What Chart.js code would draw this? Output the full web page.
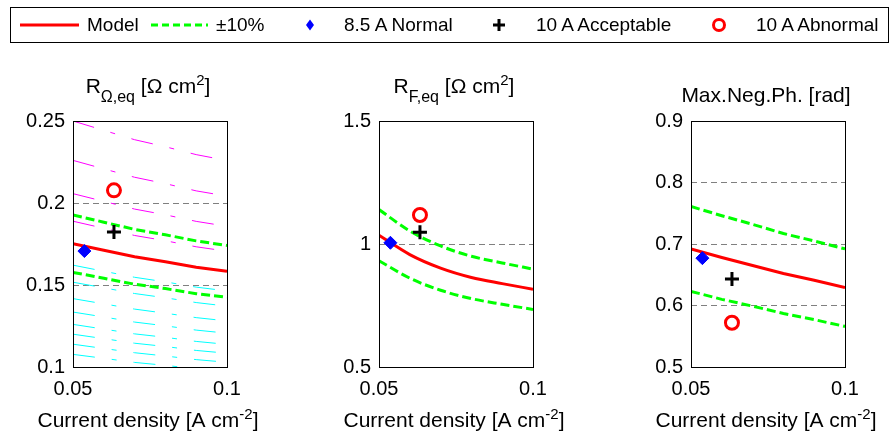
<!DOCTYPE html>
<html>
<head>
<meta charset="utf-8">
<script src="https://cdn.jsdelivr.net/npm/chart.js@4.4.1/dist/chart.umd.min.js"></script>
<style>
  body { margin: 0; background: #fff; width: 893px; height: 434px; position: relative; overflow: hidden;
         font-family: "Liberation Sans", Arial, sans-serif; }
  canvas.panel { position: absolute; top: 0; }
  #legendBox { position: absolute; left: 10px; top: 7px; width: 879px; height: 36px; border: 1px solid #000; box-sizing: border-box; }
  #legendMarks { position: absolute; left: 0; top: 0; }
  .lg { position: absolute; top: 14px; font-size: 19px; line-height: 22px; color: #000; white-space: nowrap; }
</style>
</head>
<body>
<div id="legendBox"></div>
<canvas id="legendMarks" width="893" height="50"></canvas>
<span class="lg" style="left:87px">Model</span>
<span class="lg" style="left:216px">±10%</span>
<span class="lg" style="left:344px">8.5 A Normal</span>
<span class="lg" style="left:536px">10 A Acceptable</span>
<span class="lg" style="left:756px">10 A Abnormal</span>

<canvas class="panel" id="ohmChart" width="269" height="434" style="left:3px"></canvas>
<canvas class="panel" id="farChart" width="269" height="434" style="left:309px"></canvas>
<canvas class="panel" id="phaseChart" width="269" height="434" style="left:621px"></canvas>

<script>
// current density grid shared by all model curves
const xGrid = [0.05, 0.06, 0.07, 0.08, 0.09, 0.1];
const xTicks = [0.05, 0.1];
const normalX = 0.0537;   // 8.5 A
const tenAmpX = 0.0633;   // 10 A

// ohmic resistance
const ohmTicks = [0.1, 0.15, 0.2, 0.25];
const ohmModel = [0.1752, 0.1712, 0.1672, 0.1642, 0.1608, 0.1583];
const ohmUpper = [0.1927, 0.1883, 0.1839, 0.1806, 0.1769, 0.1741];
const ohmLower = [0.1577, 0.1541, 0.1505, 0.1478, 0.1447, 0.1425];
const ohmHighLines = [
  [0.2500, 0.2443, 0.2386, 0.2343, 0.2295, 0.2259],
  [0.2260, 0.2208, 0.2157, 0.2118, 0.2074, 0.2042],
  [0.2057, 0.2010, 0.1963, 0.1928, 0.1888, 0.1858],
  [0.1889, 0.1846, 0.1802, 0.1770, 0.1733, 0.1706]
];
const ohmLowLines = [
  [0.1621, 0.1584, 0.1547, 0.1519, 0.1487, 0.1464],
  [0.1517, 0.1483, 0.1448, 0.1422, 0.1393, 0.1371],
  [0.1417, 0.1385, 0.1353, 0.1328, 0.1301, 0.1281],
  [0.1335, 0.1305, 0.1274, 0.1251, 0.1225, 0.1206],
  [0.1260, 0.1231, 0.1202, 0.1181, 0.1156, 0.1138],
  [0.1200, 0.1173, 0.1145, 0.1125, 0.1101, 0.1084],
  [0.1139, 0.1113, 0.1087, 0.1067, 0.1045, 0.1029],
  [0.1077, 0.1053, 0.1028, 0.1010, 0.0989, 0.0974]
];
const ohmMeasured = [0.1707, 0.1823, 0.2077]; // normal, acceptable, abnormal

// faradaic resistance
const farTicks = [0.5, 1, 1.5];
const farModel = [1.036, 0.957, 0.902, 0.864, 0.839, 0.816];
const farUpper = [1.140, 1.053, 0.992, 0.950, 0.923, 0.898];
const farLower = [0.932, 0.861, 0.812, 0.778, 0.755, 0.734];
const farMeasured = [1.005, 1.048, 1.118];

// maximum negative phase
const phaseTicks = [0.5, 0.6, 0.7, 0.8, 0.9];
const phaseModel = [0.692, 0.678, 0.665, 0.652, 0.641, 0.629];
const phaseUpper = [0.761, 0.746, 0.732, 0.717, 0.705, 0.692];
const phaseLower = [0.623, 0.610, 0.599, 0.587, 0.577, 0.566];
const phaseMeasured = [0.677, 0.643, 0.572];

const FONT = '"Liberation Sans", Arial, sans-serif';
const xLabel = [
  { text: 'Current density [A cm', size: 21 },
  { text: '-2', size: 15, shift: -8 },
  { text: ']', size: 21 }
];

// panel titles, keyed by canvas id
const titles = {
  ohmChart: { y: 93, parts: [
    { text: 'R', size: 21 },
    { text: 'Ω,eq', size: 16, shift: 9 },
    { text: ' [Ω cm', size: 21 },
    { text: '2', size: 15, shift: -8 },
    { text: ']', size: 21 }
  ] },
  farChart: { y: 93, parts: [
    { text: 'R', size: 21 },
    { text: 'F,eq', size: 16, shift: 9 },
    { text: ' [Ω cm', size: 21 },
    { text: '2', size: 15, shift: -8 },
    { text: ']', size: 21 }
  ] },
  phaseChart: { y: 102, parts: [
    { text: 'Max.Neg.Ph. [rad]', size: 21 }
  ] }
};

// draws a line of text made of pieces with their own size and baseline shift
function drawRich(ctx, parts, cx, baseY) {
  const widths = parts.map(p => {
    ctx.font = p.size + 'px ' + FONT;
    return ctx.measureText(p.text).width;
  });
  let x = cx - widths.reduce((a, b) => a + b, 0) / 2;
  ctx.fillStyle = '#000';
  ctx.textAlign = 'left';
  ctx.textBaseline = 'alphabetic';
  parts.forEach((p, i) => {
    ctx.font = p.size + 'px ' + FONT;
    ctx.fillText(p.text, x, baseY + (p.shift || 0));
    x += widths[i];
  });
}

// box around the axes plus title and x label
const framePlugin = {
  id: 'frame',
  afterDraw(chart) {
    const { ctx, chartArea: a } = chart;
    const t = titles[chart.canvas.id];
    ctx.save();
    ctx.strokeStyle = '#000';
    ctx.lineWidth = 1;
    ctx.setLineDash([]);
    ctx.strokeRect(a.left + 0.5, a.top + 0.5, a.right - a.left, a.bottom - a.top);
    const cx = (a.left + a.right) / 2 - 2;
    drawRich(ctx, t.parts, cx, t.y);
    drawRich(ctx, xLabel, cx, 427);
    ctx.restore();
  }
};

const pts = ys => xGrid.map((x, i) => ({ x, y: ys[i] }));

function lineSet(ys, color, width, dash, order, smooth) {
  return {
    data: pts(ys), showLine: true, borderColor: color, borderWidth: width,
    borderDash: dash, pointRadius: 0, clip: 0, order: order,
    cubicInterpolationMode: smooth ? 'monotone' : 'default'
  };
}

function markerSets(values) {
  return [
    { data: [{ x: normalX, y: values[0] }], pointStyle: 'rectRot', pointRadius: 6.5,
      backgroundColor: '#0000ff', borderColor: '#0000ff', borderWidth: 1, order: 0 },
    { data: [{ x: tenAmpX, y: values[1] }], pointStyle: 'cross', pointRadius: 7,
      borderColor: '#000', borderWidth: 3, order: 0 },
    { data: [{ x: tenAmpX, y: values[2] }], pointStyle: 'circle', pointRadius: 6.5,
      backgroundColor: 'transparent', borderColor: '#ff0000', borderWidth: 3, order: 0 }
  ];
}

function makePanel(id, yTicks, datasets) {
  const yMin = yTicks[0], yMax = yTicks[yTicks.length - 1];
  return new Chart(document.getElementById(id), {
    type: 'scatter',
    data: { datasets },
    plugins: [framePlugin],
    options: {
      responsive: false,
      animation: false,
      events: [],
      layout: { padding: { left: 0, right: 45, top: 121, bottom: 37 } },
      plugins: {
        legend: { display: false },
        tooltip: { enabled: false }
      },
      scales: {
        x: {
          type: 'linear', min: 0.05, max: 0.1,
          afterBuildTicks: s => { s.ticks = xTicks.map(v => ({ value: v })); },
          afterFit: s => { s.height = 30; },
          ticks: { color: '#000', font: { size: 20, family: FONT }, padding: 2,
                   maxRotation: 0, autoSkip: false, callback: v => String(v) },
          grid: { display: false },
          border: { display: false }
        },
        y: {
          type: 'linear', min: yMin, max: yMax,
          afterBuildTicks: s => { s.ticks = yTicks.map(v => ({ value: v })); },
          afterFit: s => { s.width = 70; },
          ticks: { color: '#000', font: { size: 20, family: FONT }, padding: 8,
                   autoSkip: false, callback: v => String(v) },
          grid: {
            drawTicks: false, lineWidth: 1,
            color: c => (c.tick && c.tick.value > yMin && c.tick.value < yMax) ? '#808080' : 'transparent'
          },
          border: { display: false, dash: [6, 4] }
        }
      }
    }
  });
}

const greenDash = [9, 4];
const contourDash = [22, 17, 5, 17];

makePanel('ohmChart', ohmTicks, [
  ...markerSets(ohmMeasured),
  lineSet(ohmModel, '#ff0000', 3, [], 1),
  lineSet(ohmUpper, '#00ff00', 3, greenDash, 2),
  lineSet(ohmLower, '#00ff00', 3, greenDash, 2),
  ...ohmHighLines.map(l => lineSet(l, '#ff00ff', 1, contourDash, 3)),
  ...ohmLowLines.map(l => lineSet(l, '#00ffff', 1, contourDash, 3))
]);

makePanel('farChart', farTicks, [
  ...markerSets(farMeasured),
  lineSet(farModel, '#ff0000', 3, [], 1, true),
  lineSet(farUpper, '#00ff00', 3, greenDash, 2, true),
  lineSet(farLower, '#00ff00', 3, greenDash, 2, true)
]);

makePanel('phaseChart', phaseTicks, [
  ...markerSets(phaseMeasured),
  lineSet(phaseModel, '#ff0000', 3, [], 1),
  lineSet(phaseUpper, '#00ff00', 3, greenDash, 2),
  lineSet(phaseLower, '#00ff00', 3, greenDash, 2)
]);

// legend symbols
const lg = document.getElementById('legendMarks').getContext('2d');
lg.lineWidth = 3;
lg.strokeStyle = '#ff0000';
lg.beginPath(); lg.moveTo(20, 25); lg.lineTo(79, 25); lg.stroke();
lg.strokeStyle = '#00ff00';
lg.setLineDash([7, 4]);
lg.beginPath(); lg.moveTo(151, 25); lg.lineTo(208, 25); lg.stroke();
lg.setLineDash([]);
lg.fillStyle = '#0000ff';
lg.beginPath(); lg.moveTo(310, 19.5); lg.lineTo(314, 25); lg.lineTo(310, 30.5); lg.lineTo(306, 25); lg.closePath(); lg.fill();
lg.strokeStyle = '#000';
lg.beginPath(); lg.moveTo(493, 25); lg.lineTo(505, 25); lg.moveTo(499, 19); lg.lineTo(499, 31); lg.stroke();
lg.strokeStyle = '#ff0000';
lg.beginPath(); lg.arc(719, 25, 5.5, 0, Math.PI * 2); lg.stroke();
</script>
</body>
</html>
